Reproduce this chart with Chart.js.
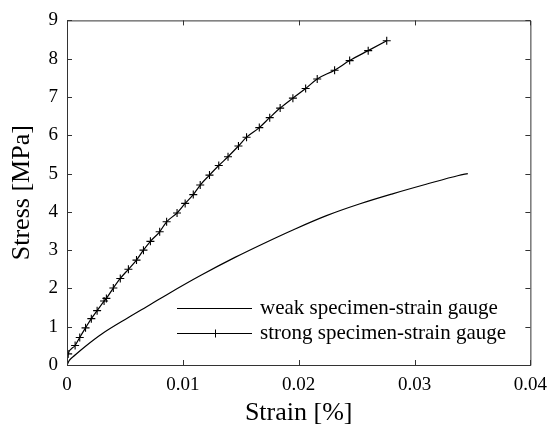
<!DOCTYPE html>
<html>
<head>
<meta charset="utf-8">
<script src="https://cdn.jsdelivr.net/npm/chart.js@4"></script>
<style>
  body { margin: 0; background: #fff; }
  #wrap { width: 556px; height: 433px; }
</style>
</head>
<body>
<div id="wrap"><canvas id="stressChart"></canvas></div>
<script>
// values
const weakStrain = [0, 0.0002, 0.0007, 0.0016, 0.0030, 0.0053, 0.0072, 0.0088, 0.0116, 0.0145,
    0.0173, 0.0196, 0.0224, 0.0253, 0.0281, 0.0310, 0.0338, 0.0346];
const weakStress = [0, 0.12, 0.26, 0.49, 0.81, 1.24, 1.58, 1.87, 2.35, 2.81,
    3.22, 3.54, 3.90, 4.21, 4.47, 4.72, 4.95, 5.00];

const strongStrain = [0, 0.0001, 0.0007, 0.0011, 0.0016, 0.0021, 0.0026, 0.0032, 0.0034, 0.0040,
    0.0046, 0.0053, 0.0060, 0.0066, 0.0072, 0.0080, 0.0086, 0.0095, 0.0102, 0.0109,
    0.0115, 0.0123, 0.0131, 0.0139, 0.0148, 0.0155, 0.0166, 0.0175, 0.0184, 0.0195,
    0.0206, 0.0216, 0.0231, 0.0244, 0.0260, 0.0276];
const strongStress = [0.15, 0.29, 0.51, 0.72, 0.97, 1.21, 1.42, 1.67, 1.74, 2.01,
    2.26, 2.50, 2.74, 3.00, 3.23, 3.48, 3.74, 3.97, 4.22, 4.45,
    4.70, 4.96, 5.21, 5.44, 5.72, 5.95, 6.20, 6.46, 6.71, 6.97,
    7.22, 7.47, 7.70, 7.95, 8.21, 8.47];

const xTicks = [0, 0.01, 0.02, 0.03, 0.04];
const yTicks = [0, 1, 2, 3, 4, 5, 6, 7, 8, 9];
const seriesNames = ['weak specimen-strain gauge', 'strong specimen-strain gauge'];

const serif = "'Liberation Serif', 'Times New Roman', serif";

function toPoints(xs, ys) {
    return xs.map((x, i) => ({ x: x, y: ys[i] }));
}

// inward ticks on all four sides plus the box
const frameTicks = {
    id: 'frameTicks',
    afterDraw(chart) {
        const ctx = chart.ctx;
        const a = chart.chartArea;
        const xs = chart.scales.x, ys = chart.scales.y;
        const len = 5;
        ctx.save();
        ctx.strokeStyle = '#333';
        ctx.lineWidth = 1;
        ctx.beginPath();
        ctx.rect(a.left + 0.5, a.top + 0.5, a.right - a.left, a.bottom - a.top);
        xTicks.forEach(v => {
            const px = Math.round(xs.getPixelForValue(v)) + 0.5;
            ctx.moveTo(px, a.bottom); ctx.lineTo(px, a.bottom - len);
            ctx.moveTo(px, a.top); ctx.lineTo(px, a.top + len);
        });
        yTicks.forEach(v => {
            const py = Math.round(ys.getPixelForValue(v)) + 0.5;
            ctx.moveTo(a.left, py); ctx.lineTo(a.left + len, py);
            ctx.moveTo(a.right, py); ctx.lineTo(a.right - len, py);
        });
        ctx.stroke();
        ctx.restore();
    }
};

// matlab style legend: line sample, + marker on the second one
const lineLegend = {
    id: 'lineLegend',
    afterDraw(chart) {
        const ctx = chart.ctx;
        const a = chart.chartArea;
        const x0 = a.left + 110, x1 = a.left + 185, tx = a.left + 193;
        const rows = [a.bottom - 57, a.bottom - 32];
        ctx.save();
        ctx.strokeStyle = '#000';
        ctx.fillStyle = '#000';
        ctx.lineWidth = 1;
        ctx.font = '21px ' + serif;
        ctx.textBaseline = 'middle';
        rows.forEach((y, i) => {
            const py = Math.round(y) + 0.5;
            ctx.beginPath();
            ctx.moveTo(x0, py); ctx.lineTo(x1, py);
            if (i === 1) {
                const mx = Math.round((x0 + x1) / 2) + 0.5;
                ctx.moveTo(mx, py - 4); ctx.lineTo(mx, py + 4);
            }
            ctx.stroke();
            ctx.fillText(seriesNames[i], tx, y);
        });
        ctx.restore();
    }
};

new Chart(document.getElementById('stressChart'), {
    type: 'line',
    data: {
        datasets: [{
            label: seriesNames[0],
            data: toPoints(weakStrain, weakStress),
            borderColor: '#000',
            borderWidth: 1.2,
            pointRadius: 0,
            cubicInterpolationMode: 'monotone'
        }, {
            label: seriesNames[1],
            data: toPoints(strongStrain, strongStress),
            borderColor: '#000',
            borderWidth: 1.2,
            pointStyle: 'cross',
            pointRadius: ctx => ctx.dataIndex === 0 ? 0 : 4,
            pointBorderColor: '#000',
            pointBorderWidth: 1.1,
            cubicInterpolationMode: 'monotone'
        }]
    },
    options: {
        responsive: true,
        maintainAspectRatio: false,
        animation: false,
        devicePixelRatio: 1,
        layout: { padding: { top: 11, right: 20, left: 0, bottom: 0 } },
        plugins: {
            legend: { display: false },
            tooltip: { enabled: false }
        },
        scales: {
            x: {
                type: 'linear',
                min: 0,
                max: 0.04,
                afterFit: s => { s.height = 68; },
                afterBuildTicks: s => { s.ticks = xTicks.map(v => ({ value: v })); },
                grid: { display: false, drawTicks: false },
                border: { display: false },
                ticks: {
                    padding: 9,
                    color: '#000',
                    font: { family: serif, size: 19 },
                    callback: v => String(v)
                },
                title: {
                    display: true,
                    text: 'Strain [%]',
                    color: '#000',
                    font: { family: serif, size: 26 },
                    padding: { top: 0, bottom: 4 }
                }
            },
            y: {
                type: 'linear',
                min: 0,
                max: 9,
                afterFit: s => { s.width = 67; },
                afterBuildTicks: s => { s.ticks = yTicks.map(v => ({ value: v })); },
                grid: { display: false, drawTicks: false },
                border: { display: false },
                ticks: {
                    padding: 9,
                    color: '#000',
                    font: { family: serif, size: 19 },
                    callback: v => String(v)
                },
                title: {
                    display: true,
                    text: 'Stress [MPa]',
                    color: '#000',
                    font: { family: serif, size: 26 },
                    padding: { top: 7, bottom: 0 }
                }
            }
        }
    },
    plugins: [frameTicks, lineLegend]
});
</script>
</body>
</html>
